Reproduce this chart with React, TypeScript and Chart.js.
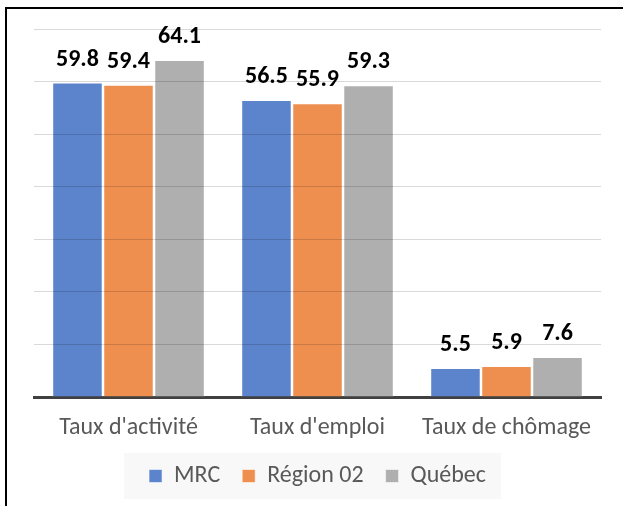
import React, { useEffect, useRef } from "react";
import { Chart, registerables } from "chart.js";

Chart.register(...registerables);

const categories = ["Taux d'activité", "Taux d'emploi", "Taux de chômage"];
const seriesNames = ["MRC", "Région 02", "Québec"];
const mrcValues = [59.8, 56.5, 5.5];
const regionValues = [59.4, 55.9, 5.9];
const quebecValues = [64.1, 59.3, 7.6];
const yMin = 0;
const yMax = 70;
const yStep = 10;

const COLORS = ["#5b84cc", "#ef8f4f", "#afafaf"];
const FONT = "Carlito, Lato, sans-serif";

const labelPlugin = {
  id: "valueLabels",
  afterDraw(chart: any) {
    const ctx = chart.ctx;
    ctx.save();
    ctx.font = `bold 24px ${FONT}`;
    ctx.fillStyle = "#000000";
    ctx.textAlign = "center";
    ctx.textBaseline = "middle";
    chart.data.datasets.forEach((ds: any, i: number) => {
      const meta = chart.getDatasetMeta(i);
      meta.data.forEach((bar: any, j: number) => {
        ctx.fillText(Number(ds.data[j]).toFixed(1), bar.x, bar.y - 23);
      });
    });
    ctx.restore();
  },
};

const legendBgPlugin = {
  id: "legendBg",
  beforeDraw(chart: any) {
    const lg = chart.legend;
    if (!lg || !lg.legendHitBoxes || !lg.legendHitBoxes.length) return;
    const boxes = lg.legendHitBoxes;
    let l = Infinity, r = -Infinity, t = Infinity, b = -Infinity;
    boxes.forEach((h: any) => {
      l = Math.min(l, h.left);
      r = Math.max(r, h.left + h.width);
      t = Math.min(t, h.top);
      b = Math.max(b, h.top + h.height);
    });
    const ctx = chart.ctx;
    ctx.save();
    ctx.fillStyle = "#f8f8f8";
    ctx.fillRect(l - 25, t - 11, r - l + 40, b - t + 22);
    ctx.restore();
  },
};

export default function App() {
  const ref = useRef<HTMLCanvasElement | null>(null);

  useEffect(() => {
    if (!ref.current) return;
    const chart = new Chart(ref.current, {
      type: "bar",
      data: {
        labels: categories,
        datasets: [mrcValues, regionValues, quebecValues].map((d, i) => ({
          label: seriesNames[i],
          data: d,
          backgroundColor: COLORS[i],
          borderColor: "rgba(255,255,255,0.55)",
          borderWidth: 1,
          barPercentage: 0.99,
          categoryPercentage: 0.81,
        })),
      },
      options: {
        animation: false,
        responsive: false,
        devicePixelRatio: 1,
        layout: { padding: { left: 34, right: 22, top: 29, bottom: 8 } },
        plugins: {
          legend: {
            position: "bottom",
            labels: {
              boxWidth: 13,
              boxHeight: 13,
              color: "#595959",
              font: { family: FONT, size: 24 },
              padding: 22,
            },
          },
          tooltip: { enabled: false },
        },
        scales: {
          x: {
            grid: { display: false, drawTicks: false },
            border: { display: true, color: "#404040", width: 3 },
            ticks: {
              color: "#595959",
              font: { family: FONT, size: 24 },
              padding: 17,
            },
            afterFit: (s: any) => {
              s.height = 45;
            },
          },
          y: {
            min: yMin,
            max: yMax,
            ticks: { display: false, stepSize: yStep },
            grid: {
              drawTicks: false,
              z: 1,
              color: (c: any) =>
                c.tick && c.tick.value === 0 ? "rgba(0,0,0,0)" : "rgba(0,0,0,0.15)",
            },
            border: { display: false },
          },
        },
      },
      plugins: [labelPlugin, legendBgPlugin],
    });
    return () => chart.destroy();
  }, []);

  return (
    <div style={{ position: "absolute", left: 0, top: 0, width: 623, height: 506, background: "#fff" }}>
      <div
        style={{
          position: "absolute",
          left: 5,
          top: 7,
          width: 618,
          height: 499,
          borderTop: "2px solid #000",
          borderLeft: "2px solid #000",
          boxSizing: "border-box",
        }}
      />
      <canvas ref={ref} width={623} height={506} style={{ position: "absolute", left: 0, top: 0 }} />
    </div>
  );
}
